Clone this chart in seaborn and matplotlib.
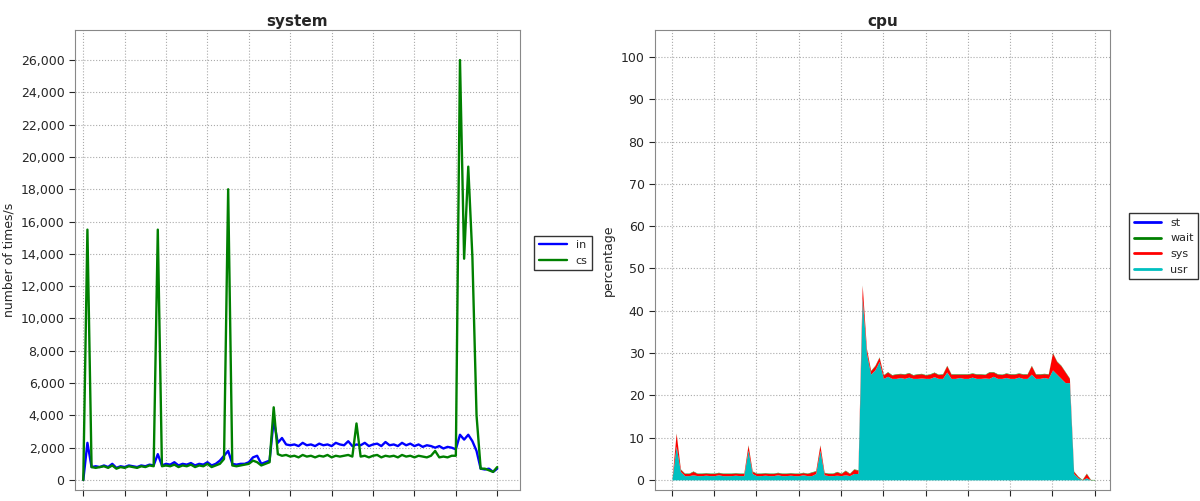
import matplotlib
matplotlib.use("Agg")
import matplotlib.pyplot as plt
import seaborn as sns
import numpy as np
from matplotlib.lines import Line2D
from matplotlib.ticker import FuncFormatter, MultipleLocator

sns.set_style("white")
plt.rcParams['font.family'] = ['DejaVu Sans']

sys_in = [0,2300,800,850,800,900,800,1000,750,850,800,900,850,800,900,850,950,900,1600,900,
          1000,950,1100,900,1000,950,1050,900,1000,950,1100,900,1000,1200,1500,1800,1000,950,1000,1000,
          1100,1400,1500,1000,1100,1200,3700,2300,2600,2200,2150,2200,2100,2300,2150,2200,2100,2250,2150,2200,
          2100,2300,2200,2150,2400,2100,2200,2150,2300,2100,2200,2250,2100,2350,2150,2200,2100,2300,2150,2250,
          2100,2200,2050,2150,2100,2000,2100,1950,2050,2000,1900,2800,2500,2800,2400,1800,700,650,700,500,700]
sys_cs = [0,15500,800,750,800,850,750,900,700,800,750,850,800,750,850,800,900,850,15500,850,
          900,850,950,800,900,850,950,800,900,850,1000,800,900,1000,1300,18000,900,850,900,950,
          1000,1200,1100,900,1000,1100,4500,1600,1500,1550,1450,1500,1400,1550,1450,1500,1400,1500,1450,1550,
          1400,1500,1450,1500,1550,1450,3500,1450,1500,1400,1500,1550,1400,1500,1450,1500,1400,1550,1450,1500,
          1400,1500,1450,1400,1500,1800,1400,1450,1400,1500,1500,26000,13700,19400,13800,4000,700,700,600,500,800]

cpu_usr = [0,8,2,1,1,1.2,1,1,1.1,1,1,1.2,1,1,1,1.1,1,1,7,1.5,
           1,1,1.1,1,1,1.2,1,1,1.1,1,1,1.2,1,1,1.5,7,1.2,1,1,1.1,
           1,1.2,1,1.5,1.5,43,30,25,26,28,24,24.5,24,24,24.2,24,24.3,24,24,24.1,
           24,24,24.4,24,24,25.5,24,24,24.2,24,24,24.3,24,24,24.1,24,24.5,24,24,24.2,
           24,24,24.3,24,24,25,24,24,24.2,24,26,25,24,23,23,1.5,0.5,0,0.5,0,0]
cpu_sys = [0,3,0.5,0.5,0.5,0.8,0.5,0.5,0.5,0.5,0.5,0.5,0.5,0.5,0.5,0.5,0.5,0.5,1.2,0.5,
           0.5,0.5,0.5,0.5,0.5,0.5,0.5,0.5,0.5,0.5,0.5,0.5,0.5,0.8,0.6,1.2,0.5,0.5,0.5,0.8,
           0.5,1.0,0.5,1.0,0.8,3,1,0.8,1,1,0.8,1,0.8,1,0.9,1,1,0.8,1,1,
           0.8,1,1,0.9,1,1.5,1,1,0.8,1,1,0.9,1,1,0.8,1.5,1,1,0.9,1,
           1,1,0.9,1,1,2,1,1,0.9,1,4,3,3,2.5,1,0.5,0.3,0,1,0,0]
cpu_wait = [0.1]*len(cpu_usr)
cpu_st = [0.0]*len(cpu_usr)

fig = plt.figure(figsize=(12, 5.01), dpi=100)
ax1 = fig.add_axes([75/1200, 11/501, 445/1200, 460/501])
ax2 = fig.add_axes([655/1200, 11/501, 455/1200, 460/501])

x1 = np.arange(len(sys_in))
sns.lineplot(x=x1, y=sys_in, ax=ax1, color='#0000ff', lw=1.7, label='in')
sns.lineplot(x=np.arange(len(sys_cs)), y=sys_cs, ax=ax1, color='#008000', lw=1.7, label='cs')
ax1.set_xlim(-2, 105.5)
ax1.set_ylim(-620, 27860)
ax1.yaxis.set_major_locator(MultipleLocator(2000))
ax1.yaxis.set_major_formatter(FuncFormatter(lambda v, p: f"{int(v):,}"))
ax1.xaxis.set_major_locator(MultipleLocator(10))
ax1.set_xticklabels([])
ax1.set_ylabel('number of times/s', fontsize=9)
ax1.set_title('system', fontsize=11, fontweight='bold', pad=3)
ax1.legend(loc='center left', bbox_to_anchor=(1.02, 0.515), fontsize=8, frameon=True,
           fancybox=False, edgecolor='black', handlelength=2.5)

x2 = np.arange(len(cpu_usr))
cols = ['#00c0c0', '#ff0000', '#008000', '#0000ff']
ax2.stackplot(x2, cpu_usr, cpu_sys, cpu_wait, cpu_st, colors=cols, lw=0)
ax2.set_xlim(-4.0, 103.6)
ax2.set_ylim(-2.4, 106.4)
ax2.yaxis.set_major_locator(MultipleLocator(10))
ax2.xaxis.set_major_locator(MultipleLocator(10))
ax2.set_xticklabels([])
ax2.set_ylabel('percentage', fontsize=9)
ax2.set_title('cpu', fontsize=11, fontweight='bold', pad=3)
handles = [Line2D([], [], color=c, lw=2) for c in ['#0000ff', '#008000', '#ff0000', '#00c0c0']]
ax2.legend(handles, ['st', 'wait', 'sys', 'usr'], loc='center left', bbox_to_anchor=(1.03, 0.53),
           fontsize=8, frameon=True, fancybox=False, edgecolor='black', handlelength=2.5)

for ax in (ax1, ax2):
    ax.grid(True, color='#aaaaaa', ls=':', lw=0.8)
    for s in ax.spines.values():
        s.set_color('#888888')
    ax.tick_params(axis='both', direction='out', length=4, labelsize=9, bottom=True, left=True)

fig.savefig('out.png', dpi=100)
